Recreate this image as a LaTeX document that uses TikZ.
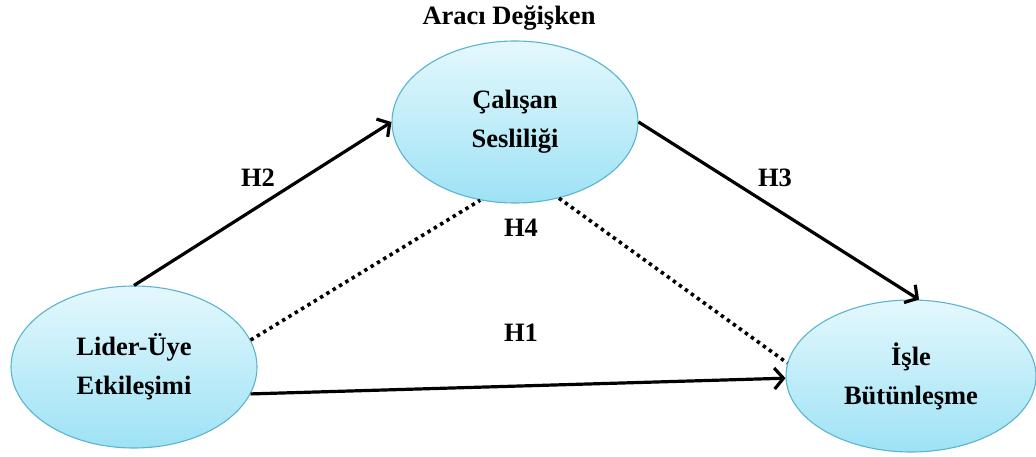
\documentclass[tikz,border=0pt]{standalone}
\usepackage{fontspec}
\setmainfont{Liberation Serif}
\usetikzlibrary{shapes.geometric,arrows.meta}
\definecolor{ellborder}{HTML}{5AB4CE}
\definecolor{elltop}{HTML}{E4F8FD}
\definecolor{ellbot}{HTML}{9EE2F5}
\tikzset{
  var/.style={ellipse, draw=ellborder, line width=1.1pt, top color=elltop, bottom color=ellbot,
    minimum width=246pt, minimum height=162pt, inner sep=0pt, align=center,
    font=\fontsize{26.5}{41}\selectfont\bfseries},
  lab/.style={font=\fontsize{26.5}{30}\selectfont\bfseries},
  path/.style={line width=3.2pt, -{Straight Barb[length=9pt, width=21pt, line width=3.2pt]}},
  dots/.style={line width=3.6pt, dash pattern=on 3.4pt off 4pt}
}
\begin{document}
\begin{tikzpicture}[x=1pt,y=-1pt]
\useasboundingbox (0,0) rectangle (1036,457);
\node[var] (C) at (515,122) {Çalışan\\[-2pt]Sesliliği};
\node[var] (L) at (134,367) {Lider-Üye\\[-2pt]Etkileşimi};
\node[var, minimum height=152pt, minimum width=250pt] (R) at (911,376) {İşle\\[-2pt]Bütünleşme};
\node[lab] (top) at (509,18) {Aracı Değişken};
\node[lab] (h2) at (258,178) {H2};
\node[lab] (h3) at (775,178) {H3};
\node[lab] (h4) at (521,228) {H4};
\node[lab] (h1) at (521,333) {H1};
\draw[path] (L.north) -- (C.west);
\draw[path] (C.east) -- (R.84);
\draw[path] (L.-13) -- (R.181);
\draw[dots] (L.13) -- (C.-114);
\draw[dots] (C.-60) -- (R.174);
\end{tikzpicture}
\end{document}
